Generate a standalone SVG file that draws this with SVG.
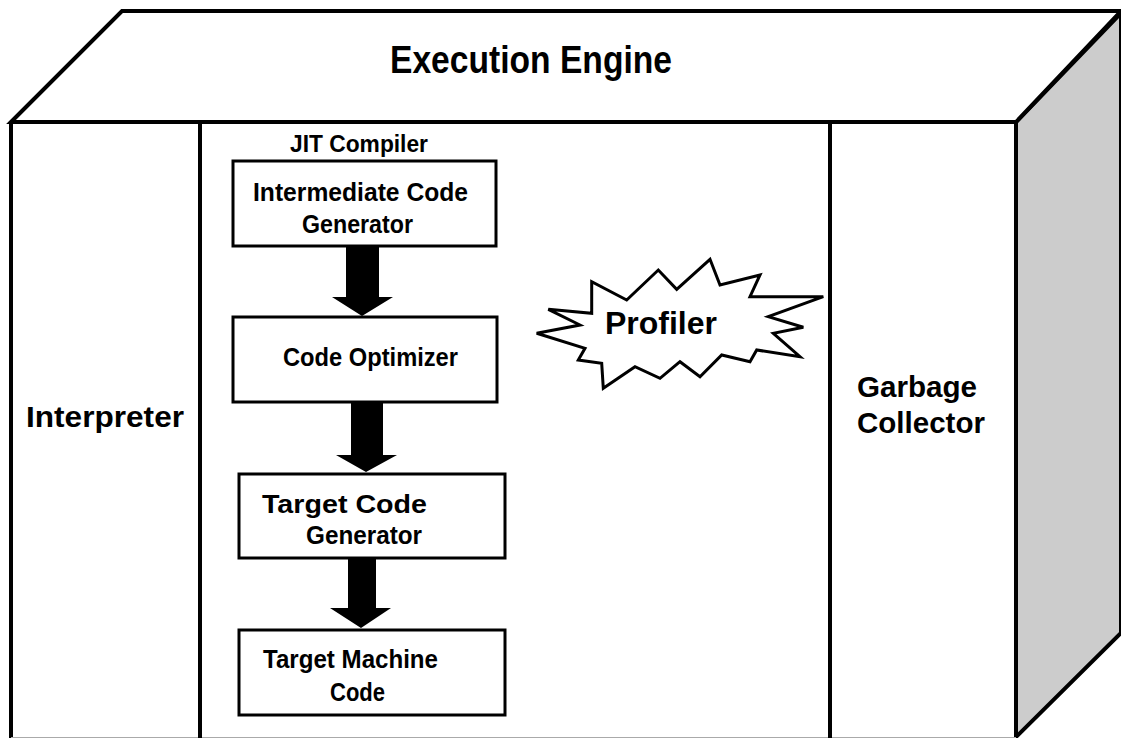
<svg xmlns="http://www.w3.org/2000/svg" width="1121" height="738" viewBox="0 0 1121 738">
<style>
.frame{fill:#fff;stroke:#000;stroke-width:4;stroke-linejoin:miter}
.side{fill:#cccccc;stroke:#000;stroke-width:4}
.div{stroke:#000;stroke-width:4}
.box{fill:#fff;stroke:#000;stroke-width:3}
.t{font-family:"Liberation Sans Narrow","Liberation Sans",Arial,sans-serif;font-weight:bold;fill:#000}
.arrow{fill:#000;stroke:none}
</style>
<rect width="1121" height="738" fill="#fff"/>
<g id="engine">
<polygon class="side" points="1016,122 1121,13 1121,633 1016,737"/>
<polygon class="frame" points="11,122 122,11 1121,11 1016,122"/>
<path class="frame" d="M11,122 L11,740 M11,122 L1016,122 L1016,740" fill="none"/>
<line x1="11" y1="737.5" x2="1016" y2="737.5" stroke="#aaa" stroke-width="1"/>
<line class="div" x1="200" y1="122" x2="200" y2="740"/>
<line class="div" x1="830" y1="120" x2="830" y2="740"/>
<text class="t" x="390" y="73" font-size="39" textLength="282" lengthAdjust="spacingAndGlyphs">Execution Engine</text>
</g>
<g id="interpreter">
<text class="t" x="26" y="427" font-size="29" textLength="158" lengthAdjust="spacingAndGlyphs">Interpreter</text>
</g>
<g id="garbage-collector">
<text class="t" x="857" y="397" font-size="30" textLength="120" lengthAdjust="spacingAndGlyphs">Garbage</text>
<text class="t" x="857" y="433" font-size="30" textLength="128" lengthAdjust="spacingAndGlyphs">Collector</text>
</g>
<g id="jit-compiler">
<text class="t" x="290" y="152" font-size="23" textLength="138" lengthAdjust="spacingAndGlyphs">JIT Compiler</text>
</g>
<g id="profiler">
<polygon fill="#fff" stroke="#000" stroke-width="3" stroke-linejoin="miter" points="548.3,309.3 591.7,313.3 591.7,281.7 626.7,300 658.3,270 676.7,289.3 710,259.3 720,285 760,275 750,296.7 823.3,296.7 768.3,316.7 803.3,327.3 773.3,333.3 800,356.7 756.7,350 750,361.7 721.7,355 700,376.7 680,361.7 660,378.3 635,366.7 603.3,388.3 601.7,363.3 578.3,360 585,348.3 536.7,333.3 580,325"/>
<text class="t" x="605" y="334" font-size="31" textLength="112" lengthAdjust="spacingAndGlyphs">Profiler</text>
</g>
<g id="intermediate-code-generator">
<rect class="box" x="233" y="161" width="263" height="85"/>
<text class="t" x="253" y="201" font-size="25" textLength="215" lengthAdjust="spacingAndGlyphs">Intermediate Code</text>
<text class="t" x="302" y="233" font-size="25" textLength="111" lengthAdjust="spacingAndGlyphs">Generator</text>
</g>
<g id="code-optimizer">
<rect class="box" x="233" y="317" width="264" height="85"/>
<text class="t" x="283" y="366" font-size="25" textLength="175" lengthAdjust="spacingAndGlyphs">Code Optimizer</text>
</g>
<g id="target-code-generator">
<rect class="box" x="239" y="474" width="266" height="84"/>
<text class="t" x="262" y="513" font-size="25" textLength="165" lengthAdjust="spacingAndGlyphs">Target Code</text>
<text class="t" x="306" y="544" font-size="25" textLength="116" lengthAdjust="spacingAndGlyphs">Generator</text>
</g>
<g id="target-machine-code">
<rect class="box" x="239" y="630" width="266" height="85"/>
<text class="t" x="263" y="668" font-size="25" textLength="175" lengthAdjust="spacingAndGlyphs">Target Machine</text>
<text class="t" x="330" y="701" font-size="25" textLength="55" lengthAdjust="spacingAndGlyphs">Code</text>
</g>
<g id="connectors">
<polygon class="arrow" points="346,247 379,247 379,297 393,297 362,316 332,297 346,297"/>
<polygon class="arrow" points="351,403 383,403 383,455 397,455 366,472 336,455 351,455"/>
<polygon class="arrow" points="348,559 376,559 376,608 391,608 361,628 330,608 348,608"/>
</g>
</svg>
